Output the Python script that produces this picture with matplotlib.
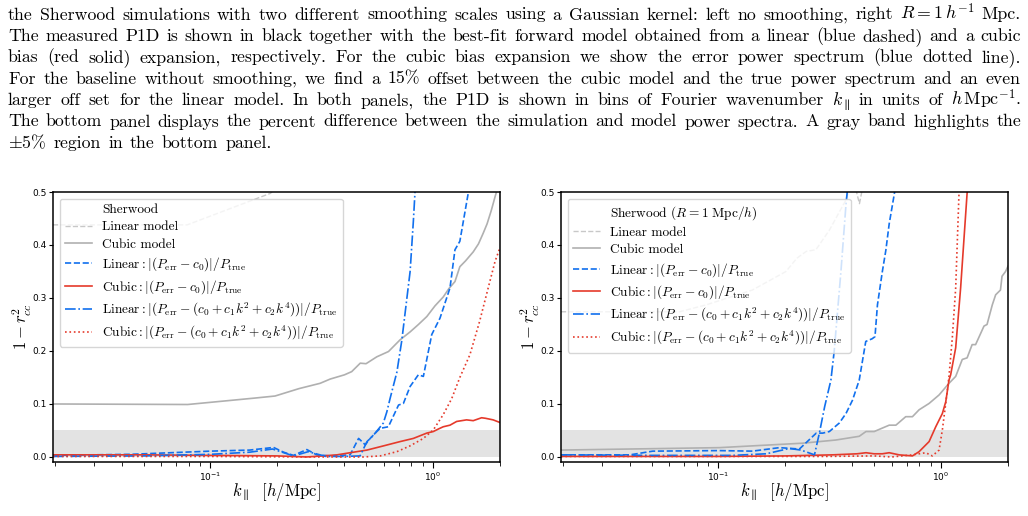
import matplotlib
matplotlib.use("Agg")
import matplotlib.pyplot as plt
from matplotlib.lines import Line2D
from matplotlib.font_manager import FontProperties

plt.rcParams['mathtext.fontset'] = 'cm'
plt.rcParams['font.family'] = ['DejaVu Sans']

# ---- data ----
# left panel: no smoothing
L_lin_model_k = [0.0196, 0.0786, 0.186, 0.25, 0.4, 1.0, 2.0]
L_lin_model_v = [0.438, 0.438, 0.4975, 0.55, 0.65, 0.8, 0.9]

L_cub_model_k = [0.0196, 0.079, 0.118, 0.157, 0.195, 0.25, 0.311, 0.345, 0.40, 0.431, 0.471, 0.50,
                 0.559, 0.631, 0.711, 0.789, 0.86, 0.938, 1.02, 1.112, 1.18, 1.255, 1.32, 1.40,
                 1.516, 1.60, 1.68, 1.75, 1.83, 1.90, 1.96, 2.0]
L_cub_model_v = [0.100, 0.099, 0.106, 0.111, 0.115, 0.129, 0.139, 0.147, 0.155, 0.161, 0.177, 0.176,
                 0.189, 0.199, 0.221, 0.236, 0.250, 0.265, 0.285, 0.302, 0.318, 0.331, 0.359, 0.370,
                 0.387, 0.402, 0.422, 0.440, 0.466, 0.491, 0.51, 0.53]

L_lin_c0_k = [0.0196, 0.0438, 0.1, 0.15, 0.192, 0.213, 0.236, 0.271, 0.30, 0.345, 0.424, 0.463, 0.496,
              0.522, 0.559, 0.579, 0.63, 0.70, 0.736, 0.789, 0.859, 0.905, 0.987, 1.075, 1.192,
              1.255, 1.32, 1.44, 1.5]
L_lin_c0_v = [0.003, 0.005, 0.011, 0.013, 0.018, 0.009, 0.003, 0.014, 0.004, 0.002, 0.004, 0.035, 0.023,
              0.035, 0.048, 0.054, 0.057, 0.098, 0.101, 0.133, 0.155, 0.152, 0.231, 0.262, 0.319,
              0.391, 0.407, 0.498, 0.56]

L_lin_full_k = [0.0196, 0.05, 0.1, 0.15, 0.19, 0.236, 0.275, 0.33, 0.40, 0.47, 0.505, 0.54, 0.598,
                0.62, 0.641, 0.688, 0.724, 0.789, 0.816, 0.83, 0.86]
L_lin_full_v = [0.001, 0.002, 0.005, 0.009, 0.015, 0.002, 0.010, 0.001, 0.001, 0.002, 0.029, 0.041,
                0.064, 0.085, 0.11, 0.16, 0.22, 0.35, 0.445, 0.50, 0.58]

L_cub_c0_k = [0.0196, 0.05, 0.1, 0.2, 0.27, 0.32, 0.37, 0.424, 0.505, 0.60, 0.711, 0.816, 0.937,
              1.003, 1.06, 1.112, 1.192, 1.277, 1.415, 1.516, 1.653, 1.72, 1.863, 2.0]
L_cub_c0_v = [0.004, 0.004, 0.003, 0.002, 0.0, 0.002, 0.004, 0.008, 0.013, 0.021, 0.029, 0.035, 0.045,
              0.048, 0.053, 0.057, 0.060, 0.067, 0.070, 0.0685, 0.074, 0.073, 0.070, 0.065]

L_cub_full_k = [0.0196, 0.1, 0.3, 0.487, 0.579, 0.688, 0.789, 0.905, 1.003, 1.112, 1.213, 1.32,
                1.465, 1.62, 1.77, 1.90, 2.0]
L_cub_full_v = [0.001, 0.001, 0.0, 0.0, 0.002, 0.010, 0.021, 0.035, 0.051, 0.08, 0.11, 0.15,
                0.193, 0.256, 0.319, 0.369, 0.395]

# right panel: R = 1 Mpc/h smoothing
R_lin_model_k = [0.0196, 0.0668, 0.088, 0.142, 0.201, 0.225, 0.248, 0.274, 0.315, 0.374, 0.40, 0.43,
                 0.46, 0.6, 1.0, 2.0]
R_lin_model_v = [0.274, 0.274, 0.287, 0.315, 0.35, 0.375, 0.388, 0.391, 0.428, 0.485, 0.53, 0.478,
                 0.54, 0.7, 0.8, 0.9]

R_cub_model_k = [0.0196, 0.101, 0.239, 0.337, 0.429, 0.46, 0.501, 0.585, 0.627, 0.694, 0.744, 0.797,
                 0.884, 0.98, 1.086, 1.164, 1.246, 1.31, 1.38, 1.43, 1.56, 1.61, 1.70, 1.76, 1.85,
                 1.88, 1.95, 2.0]
R_cub_model_v = [0.013, 0.0176, 0.026, 0.032, 0.039, 0.048, 0.048, 0.060, 0.060, 0.076, 0.076, 0.089,
                 0.101, 0.117, 0.139, 0.152, 0.184, 0.187, 0.212, 0.212, 0.247, 0.25, 0.287, 0.306,
                 0.315, 0.341, 0.35, 0.36]

R_lin_c0_k = [0.0196, 0.04, 0.0507, 0.1, 0.142, 0.188, 0.231, 0.275, 0.294, 0.315, 0.349, 0.374,
              0.40, 0.429, 0.459, 0.49, 0.505, 0.518, 0.545, 0.565, 0.585, 0.616, 0.64]
R_lin_c0_v = [0.004, 0.004, 0.011, 0.012, 0.011, 0.0176, 0.015, 0.045, 0.045, 0.048, 0.064, 0.082,
              0.107, 0.145, 0.218, 0.223, 0.227, 0.287, 0.35, 0.39, 0.44, 0.495, 0.54]

R_lin_full_k = [0.0196, 0.05, 0.116, 0.164, 0.208, 0.235, 0.27, 0.284, 0.30, 0.32, 0.331, 0.355,
                0.374, 0.385]
R_lin_full_v = [0.004, 0.003, 0.003, 0.006, 0.016, 0.013, 0.004, 0.045, 0.095, 0.145, 0.199, 0.35,
                0.476, 0.53]

R_cub_c0_k = [0.0196, 0.1, 0.2, 0.326, 0.42, 0.46, 0.50, 0.545, 0.585, 0.648, 0.744, 0.797, 0.884,
              0.947, 1.014, 1.05, 1.086, 1.105, 1.164, 1.225, 1.31, 1.33]
R_cub_c0_v = [0.001, 0.001, 0.002, 0.004, 0.006, 0.008, 0.006, 0.006, 0.008, 0.004, 0.002, 0.010,
              0.029, 0.057, 0.082, 0.104, 0.145, 0.155, 0.206, 0.319, 0.498, 0.54]

R_cub_full_k = [0.0196, 0.1, 0.3, 0.5, 0.6, 0.744, 0.854, 0.914, 0.98, 1.014, 1.05, 1.086, 1.124,
                1.164, 1.204, 1.22]
R_cub_full_v = [0.001, 0.001, 0.001, 0.002, 0.0, 0.004, 0.008, 0.002, 0.013, 0.051, 0.101, 0.152,
                0.225, 0.319, 0.495, 0.55]

caption_lines = [
    r"the Sherwood simulations with two different smoothing scales using a Gaussian kernel: left no smoothing, right $R=1\,h^{-1}$ Mpc.",
    "The measured P1D is shown in black together with the best-fit forward model obtained from a linear (blue dashed) and a cubic",
    "bias (red solid) expansion, respectively. For the cubic bias expansion we show the error power spectrum (blue dotted line).",
    "For the baseline without smoothing, we find a 15% offset between the cubic model and the true power spectrum and an even",
    r"larger off set for the linear model. In both panels, the P1D is shown in bins of Fourier wavenumber $k_\parallel$ in units of $h\,\mathrm{Mpc}^{-1}$.",
    "The bottom panel displays the percent difference between the simulation and model power spectra. A gray band highlights the",
    r"$\pm5\%$ region in the bottom panel.",
]

legend_titles = ["Sherwood", r"Sherwood $(R=1\ \mathrm{Mpc}/h)$"]

BLUE = '#1170ee'
RED = '#e53a2b'

W, H = 1028, 516
fig = plt.figure(figsize=(W / 100, H / 100), dpi=100)

# ---- caption (justified) ----
CAP_SIZE = 12.8
cap_font = dict(family=['cmr10', 'DejaVu Serif'], size=CAP_SIZE, color='black')
renderer = fig.canvas.get_renderer()
x_left, x_right = 8, 1021
y0, dy = 19.5, 21.4
for i, line in enumerate(caption_lines):
    words = line.split(' ')
    y = 1 - (y0 + i * dy) / H
    texts = [fig.text(0, y, w, ha='left', va='baseline', **cap_font) for w in words]
    widths = [t.get_window_extent(renderer).width for t in texts]
    if i == len(caption_lines) - 1:
        gap = CAP_SIZE * 100 / 72 * 0.4
    else:
        gap = (x_right - x_left - sum(widths)) / (len(words) - 1)
    x = x_left
    for t, w in zip(texts, widths):
        t.set_x(x / W)
        x += w + gap

# ---- panels ----
ax_l = fig.add_axes([53 / W, 1 - 462 / H, 447 / W, 270 / H])
ax_r = fig.add_axes([561 / W, 1 - 462 / H, 447 / W, 270 / H])

panels = [
    (ax_l, L_lin_model_k, L_lin_model_v, L_cub_model_k, L_cub_model_v, L_lin_c0_k, L_lin_c0_v,
     L_cub_c0_k, L_cub_c0_v, L_lin_full_k, L_lin_full_v, L_cub_full_k, L_cub_full_v, legend_titles[0]),
    (ax_r, R_lin_model_k, R_lin_model_v, R_cub_model_k, R_cub_model_v, R_lin_c0_k, R_lin_c0_v,
     R_cub_c0_k, R_cub_c0_v, R_lin_full_k, R_lin_full_v, R_cub_full_k, R_cub_full_v, legend_titles[1]),
]

leg_prop = FontProperties(family=['cmr10', 'DejaVu Serif'], size=9.6)

for (ax, lmk, lmv, cmk, cmv, l0k, l0v, c0k, c0v, lfk, lfv, cfk, cfv, title) in panels:
    ax.axhspan(0, 0.05, color='#e3e3e3', lw=0, zorder=0)
    h0 = Line2D([], [], linestyle='none', label=title)
    ax.plot(lmk, lmv, color='#c8c8c8', ls='--', lw=1.0, label='Linear model')
    ax.plot(cmk, cmv, color='#b0b0b0', ls='-', lw=1.2, label='Cubic model')
    ax.plot(l0k, l0v, color=BLUE, ls='--', lw=1.2, label=r'$\mathrm{Linear}: |(P_{\mathrm{err}}-c_0)|/P_{\mathrm{true}}$')
    ax.plot(c0k, c0v, color=RED, ls='-', lw=1.2, label=r'$\mathrm{Cubic}: |(P_{\mathrm{err}}-c_0)|/P_{\mathrm{true}}$')
    ax.plot(lfk, lfv, color=BLUE, ls='-.', lw=1.2,
            label=r'$\mathrm{Linear}: |(P_{\mathrm{err}}-(c_0+c_1k^2+c_2k^4))|/P_{\mathrm{true}}$')
    ax.plot(cfk, cfv, color=RED, ls=':', lw=1.2,
            label=r'$\mathrm{Cubic}: |(P_{\mathrm{err}}-(c_0+c_1k^2+c_2k^4))|/P_{\mathrm{true}}$')
    handles, labels = ax.get_legend_handles_labels()
    ax.legend([h0] + handles, [title] + labels, loc='upper left', prop=leg_prop,
              framealpha=0.8, edgecolor='0.8', handlelength=2.0, labelspacing=0.36)

    ax.set_xscale('log')
    ax.set_xlim(0.0196, 2.0)
    ax.set_ylim(-0.0095, 0.5)
    ax.set_yticks([0.0, 0.1, 0.2, 0.3, 0.4, 0.5])
    ax.tick_params(axis='both', which='major', labelsize=6.5, direction='out', width=0.8)
    ax.tick_params(axis='y', which='major', length=3, pad=1.5)
    ax.tick_params(axis='x', which='major', length=4.5, pad=1.5)
    ax.tick_params(axis='x', which='minor', length=3, width=0.6)
    for s in ax.spines.values():
        s.set_linewidth(1.1)
    ax.set_xlabel(r'$k_\parallel\ \ [h/\mathrm{Mpc}]$', fontsize=12, labelpad=-1)
    ax.set_ylabel(r'$1-r_{cc}^2$', fontsize=12, labelpad=-1.5)

fig.savefig('out.png', dpi=100, facecolor='white')
